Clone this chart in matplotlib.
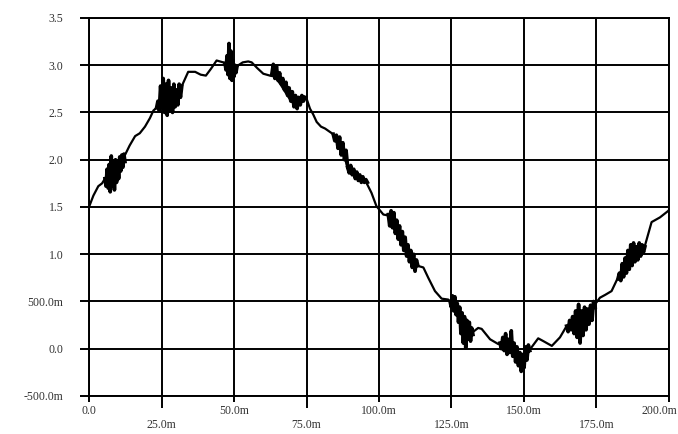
import numpy as np
import matplotlib
matplotlib.use("Agg")
import matplotlib.pyplot as plt
import matplotlib.transforms as mtransforms

# smooth part of the trace (time in ms, volts)
base_x = [0, 1.5, 3.2, 4.5, 5.5, 9, 12.4, 14, 15.9, 17.5, 19.3, 21, 22.2, 23.3,
          28, 32, 34.2, 36.6, 38.5, 40.3, 42, 44, 46.3, 47.5, 49, 50.5, 51.5,
          53, 54.9, 56.1, 58, 60.1, 62.4, 64, 66, 68, 69.9, 72, 73.9, 75.1,
          76.2, 77.3, 78.5, 80, 81.4, 84.2, 86, 87.5, 89.2, 92, 95.6, 97.4,
          99.1, 101.5, 103.2, 106, 108.5, 111, 113, 115.3, 117, 119.3, 121.6,
          123.9, 125, 127, 129, 131.3, 132.5, 134.2, 135.4, 138.3, 141.1, 143,
          145, 147, 149.2, 150.5, 152, 154.9, 156.7, 159.6, 162.4, 164.7, 167,
          170, 172, 174.5, 176.2, 178, 180.2, 181.9, 185, 188, 191.7, 194,
          196.9, 199.8, 200]
base_y = [1.50, 1.62, 1.72, 1.75, 1.80, 1.88, 2.05, 2.15, 2.25, 2.28, 2.35,
          2.44, 2.52, 2.55, 2.65, 2.78, 2.93, 2.93, 2.90, 2.89, 2.96, 3.05,
          3.03, 3.00, 2.96, 2.97, 3.00, 3.03, 3.04, 3.03, 2.97, 2.91, 2.89,
          2.88, 2.80, 2.70, 2.61, 2.63, 2.66, 2.64, 2.54, 2.48, 2.40, 2.35,
          2.33, 2.27, 2.20, 2.08, 1.92, 1.85, 1.76, 1.65, 1.51, 1.42, 1.41,
          1.28, 1.12, 0.96, 0.88, 0.86, 0.75, 0.61, 0.53, 0.52, 0.48, 0.40,
          0.28, 0.15, 0.18, 0.22, 0.21, 0.10, 0.05, 0.05, 0.03, -0.05, -0.18,
          -0.10, -0.01, 0.11, 0.08, 0.03, 0.12, 0.24, 0.28, 0.32, 0.38, 0.47,
          0.54, 0.57, 0.61, 0.72, 0.85, 0.95, 1.09, 1.34, 1.39, 1.46, 1.47]

# noise bursts: (start, end) in ms and the spike values
burst_spans = [(5.5, 12.4), (23.3, 32.0), (46.9, 51.0), (63.0, 74.5),
               (84.2, 89.2), (89.2, 96.0), (103.2, 113.4), (124.5, 132.4),
               (141.7, 152.0), (164.7, 174.5), (182.4, 191.7)]
burst_vals = [
    [1.80, 1.72, 1.90, 1.70, 1.95, 1.66, 2.04, 1.72, 1.98, 1.68, 2.00, 1.76,
     1.99, 1.80, 2.03, 1.88, 2.05, 1.92, 2.06, 1.98],
    [2.55, 2.62, 2.52, 2.78, 2.55, 2.86, 2.50, 2.80, 2.47, 2.84, 2.52, 2.76,
     2.50, 2.80, 2.56, 2.74, 2.58, 2.80, 2.66, 2.78],
    [3.02, 2.95, 3.10, 2.90, 3.23, 2.86, 3.15, 2.84, 3.05, 2.88, 3.00, 2.92,
     2.98],
    [2.90, 3.01, 2.86, 2.99, 2.84, 2.92, 2.80, 2.86, 2.74, 2.82, 2.68, 2.76,
     2.62, 2.72, 2.56, 2.68, 2.54, 2.66, 2.58, 2.68, 2.62, 2.66],
    [2.27, 2.20, 2.26, 2.12, 2.24, 2.05, 2.18, 2.00, 2.10, 1.92],
    [1.92, 1.86, 1.94, 1.84, 1.90, 1.80, 1.87, 1.78, 1.84, 1.76, 1.82, 1.76,
     1.79, 1.76],
    [1.42, 1.30, 1.46, 1.28, 1.44, 1.22, 1.36, 1.16, 1.30, 1.10, 1.24, 1.04,
     1.18, 0.98, 1.10, 0.92, 1.04, 0.86, 1.00, 0.82, 0.94, 0.88],
    [0.50, 0.44, 0.56, 0.40, 0.55, 0.36, 0.48, 0.28, 0.44, 0.16, 0.38, 0.06,
     0.34, 0.01, 0.30, 0.10, 0.28, 0.08, 0.22, 0.15],
    [0.06, 0.00, 0.12, -0.02, 0.16, -0.06, 0.10, -0.04, 0.19, -0.08, 0.06,
     -0.14, 0.02, -0.18, -0.04, -0.24, -0.06, -0.20, 0.02, -0.12, 0.04, -0.02],
    [0.24, 0.18, 0.30, 0.20, 0.34, 0.16, 0.40, 0.12, 0.47, 0.06, 0.40, 0.14,
     0.44, 0.20, 0.42, 0.26, 0.46, 0.30, 0.50, 0.44],
    [0.74, 0.80, 0.72, 0.90, 0.76, 0.96, 0.80, 1.04, 0.84, 1.10, 0.88, 1.12,
     0.92, 1.08, 0.94, 1.12, 0.98, 1.10, 1.02, 1.08],
]

y_ticks = [-0.5, 0.0, 0.5, 1.0, 1.5, 2.0, 2.5, 3.0, 3.5]
y_labels = ["-500.0m", "0.0", "500.0m", "1.0", "1.5", "2.0", "2.5", "3.0", "3.5"]
x_major = [0, 50, 100, 150, 200]
x_major_labels = ["0.0", "50.0m", "100.0m", "150.0m", "200.0m"]
x_minor = [25, 75, 125, 175]
x_minor_labels = ["25.0m", "75.0m", "125.0m", "175.0m"]

plt.rcParams['font.family'] = ['Liberation Serif', 'DejaVu Serif']

fig = plt.figure(figsize=(6.78, 4.34), dpi=100)
ax = fig.add_axes([0.1313, 0.0876, 0.8554, 0.871])

lw = 1.4
ax.plot(base_x, base_y, color='black', lw=1.6, solid_joinstyle='round', zorder=3)
for (x0, x1), vals in zip(burst_spans, burst_vals):
    bx = np.linspace(x0, x1, len(vals))
    ax.plot(bx, vals, color='black', lw=2.6, zorder=3)

ax.set_xlim(0, 200)
ax.set_ylim(-0.5, 3.5)

ax.set_yticks(y_ticks)
ax.set_yticklabels(y_labels)
ax.set_xticks(x_major)
ax.set_xticklabels(x_major_labels)
ax.set_xticks(x_minor, minor=True)
ax.set_xticklabels(x_minor_labels, minor=True)

ax.grid(True, which='both', color='black', lw=lw)
ax.tick_params(axis='y', length=6.5, width=lw, pad=12, labelsize=8.5,
               labelcolor='#333333')
ax.tick_params(axis='x', which='major', length=4.5, width=lw, pad=2,
               labelsize=8.5, labelcolor='#333333')
ax.tick_params(axis='x', which='minor', length=8.6, width=lw, pad=8,
               labelsize=8.5, labelcolor='#333333')
for sp in ax.spines.values():
    sp.set_linewidth(lw)

# last label sits a little left so it stays inside the image
last = ax.get_xticklabels()[-1]
last.set_transform(last.get_transform() +
                   mtransforms.ScaledTranslation(-10 / 100, 0, fig.dpi_scale_trans))

fig.savefig('out.png', dpi=100)
